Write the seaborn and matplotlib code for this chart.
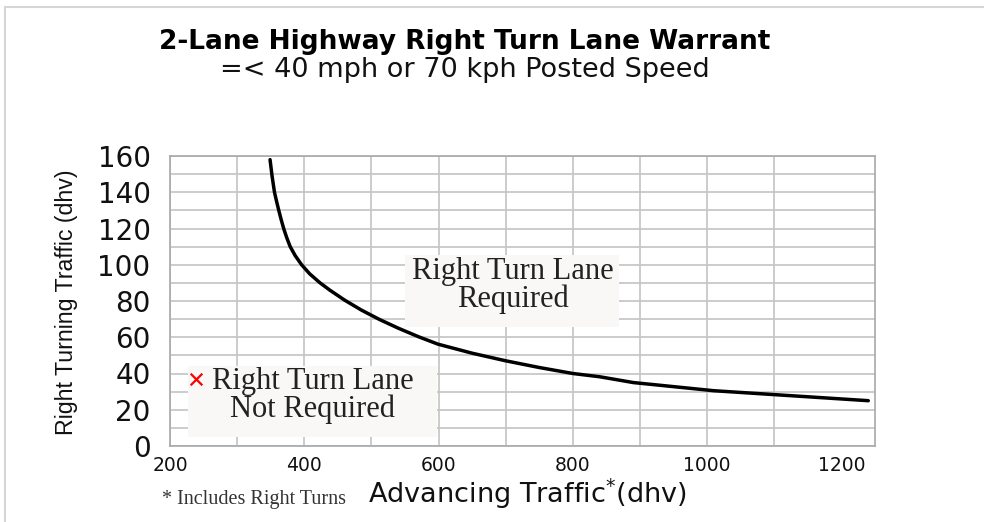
import matplotlib
matplotlib.use("Agg")
import matplotlib.pyplot as plt
from matplotlib.lines import Line2D
from matplotlib.patches import Rectangle
import seaborn as sns
import pandas as pd

# ---- data ----
advancing = [349, 352, 355.6, 358.7, 362, 365.5, 369.3, 373.8, 379, 386.5, 396, 408, 423.5, 438,
             460, 485, 512, 540, 570, 599, 650, 700, 750, 800, 840, 890, 1010, 1240]
right_turning = [158, 149, 140, 135, 130, 125, 120, 115, 110, 105, 100, 95, 90, 86,
                 80.5, 75, 69.8, 65, 60.3, 56.2, 51.2, 47, 43.3, 40, 38.2, 35, 30.5, 25]
marker_x = [238]
marker_y = [37]
x_ticks = [200, 400, 600, 800, 1000, 1200]
y_ticks = [0, 20, 40, 60, 80, 100, 120, 140, 160]
title = "2-Lane Highway Right Turn Lane Warrant"
subtitle = "=< 40 mph or 70 kph Posted Speed"
label_required = "Right Turn Lane\nRequired"
label_not_required = "Right Turn Lane\nNot Required"
footnote = "* Includes Right Turns"

sns.set_theme(style="white")
plt.rcParams['font.family'] = ['DejaVu Sans']

W, H = 984, 522
fig = plt.figure(figsize=(W / 100, H / 100), dpi=100)
fig.patch.set_facecolor("white")

def fx(px):
    return px / W

def fy(py):
    return 1 - py / H

ax = fig.add_axes([fx(170), fy(446), fx(875) - fx(170), fy(156) - fy(446)])
ax.set_facecolor("white")

curve = pd.DataFrame({"adv": advancing, "rt": right_turning})
sns.lineplot(data=curve, x="adv", y="rt", sort=False, color="black", linewidth=2.5, ax=ax)
ax.lines[-1].set_solid_joinstyle("round")
ax.lines[-1].set_solid_capstyle("round")
pts = pd.DataFrame({"x": marker_x, "y": marker_y})
sns.scatterplot(data=pts, x="x", y="y", marker="x", color="#ff0000", s=70, linewidth=1.6, ax=ax, zorder=6)

ax.set_xlim(200, 1250)
ax.set_ylim(0, 160)
ax.set_xticks(x_ticks)
ax.set_xticks(list(range(300, 1200, 200)), minor=True)
ax.set_yticks(y_ticks)
ax.set_yticks(list(range(10, 160, 20)), minor=True)
ax.set_xticklabels([str(v) for v in x_ticks], fontsize=13.5, color="#111111")
ax.set_yticklabels([str(v) for v in y_ticks], fontsize=20, color="#111111")

grid_c = "#c4c4c4"
ax.grid(True, which="both", color=grid_c, linewidth=1.2)
ax.set_axisbelow(True)
# no vertical gridline at 1200
ax.xaxis.get_gridlines()[-1].set_visible(False)

for s in ax.spines.values():
    s.set_color("#a8a8a8")
    s.set_linewidth(1.2)
    s.set_visible(True)

ax.tick_params(axis="x", which="both", direction="inout", length=9, width=1.0, color="#909090", pad=3)
ax.tick_params(axis="y", which="both", direction="out", length=9, width=1.0, color="#909090", pad=5)
ax.set_xlabel("")
ax.set_ylabel("")

# annotation boxes
box_c = "#f9f8f6"
ax.add_patch(Rectangle((549.6, 65.7), 868 - 549.6, 105.4 - 65.7, facecolor=box_c, edgecolor="none", zorder=3))
ax.add_patch(Rectangle((226.7, 5.0), 597 - 226.7, 44.1 - 5.0, facecolor=box_c, edgecolor="none", zorder=3))
ax.text(711, 76.7, label_required, ha="center", va="baseline", fontsize=22,
        family=["Liberation Serif", "DejaVu Serif"], color="#222222", linespacing=0.93, zorder=4)
ax.text(412, 15.8, label_not_required, ha="center", va="baseline", fontsize=22,
        family=["Liberation Serif", "DejaVu Serif"], color="#222222", linespacing=0.93, zorder=4)

# titles
fig.text(fx(465), fy(49), title, ha="center", va="baseline", fontsize=19, fontweight="bold", color="#000000")
fig.text(fx(465), fy(77), subtitle, ha="center", va="baseline", fontsize=19.5, color="#111111")

# axis labels
fig.text(fx(527), fy(503), "Advancing Traffic$^{*}$(dhv)", ha="center", va="baseline", fontsize=19.5, color="#111111")
fig.text(fx(67), fy(302), "Right Turning Traffic (dhv)", ha="center", va="center", rotation=90,
         fontsize=16.7, family=["Liberation Sans", "DejaVu Sans"], color="#111111")
fig.text(fx(162), fy(504), footnote, ha="left", va="baseline", fontsize=14.5,
         family=["Liberation Serif", "DejaVu Serif"], color="#333333")

# light frame around the figure (top and left edges)
fig.add_artist(Line2D([fx(5), 1.0], [fy(7), fy(7)], color="#d6d6d6", linewidth=1.5))
fig.add_artist(Line2D([fx(5), fx(5)], [fy(7), 0.0], color="#d6d6d6", linewidth=1.5))

fig.savefig("out.png", dpi=100, facecolor="white")
